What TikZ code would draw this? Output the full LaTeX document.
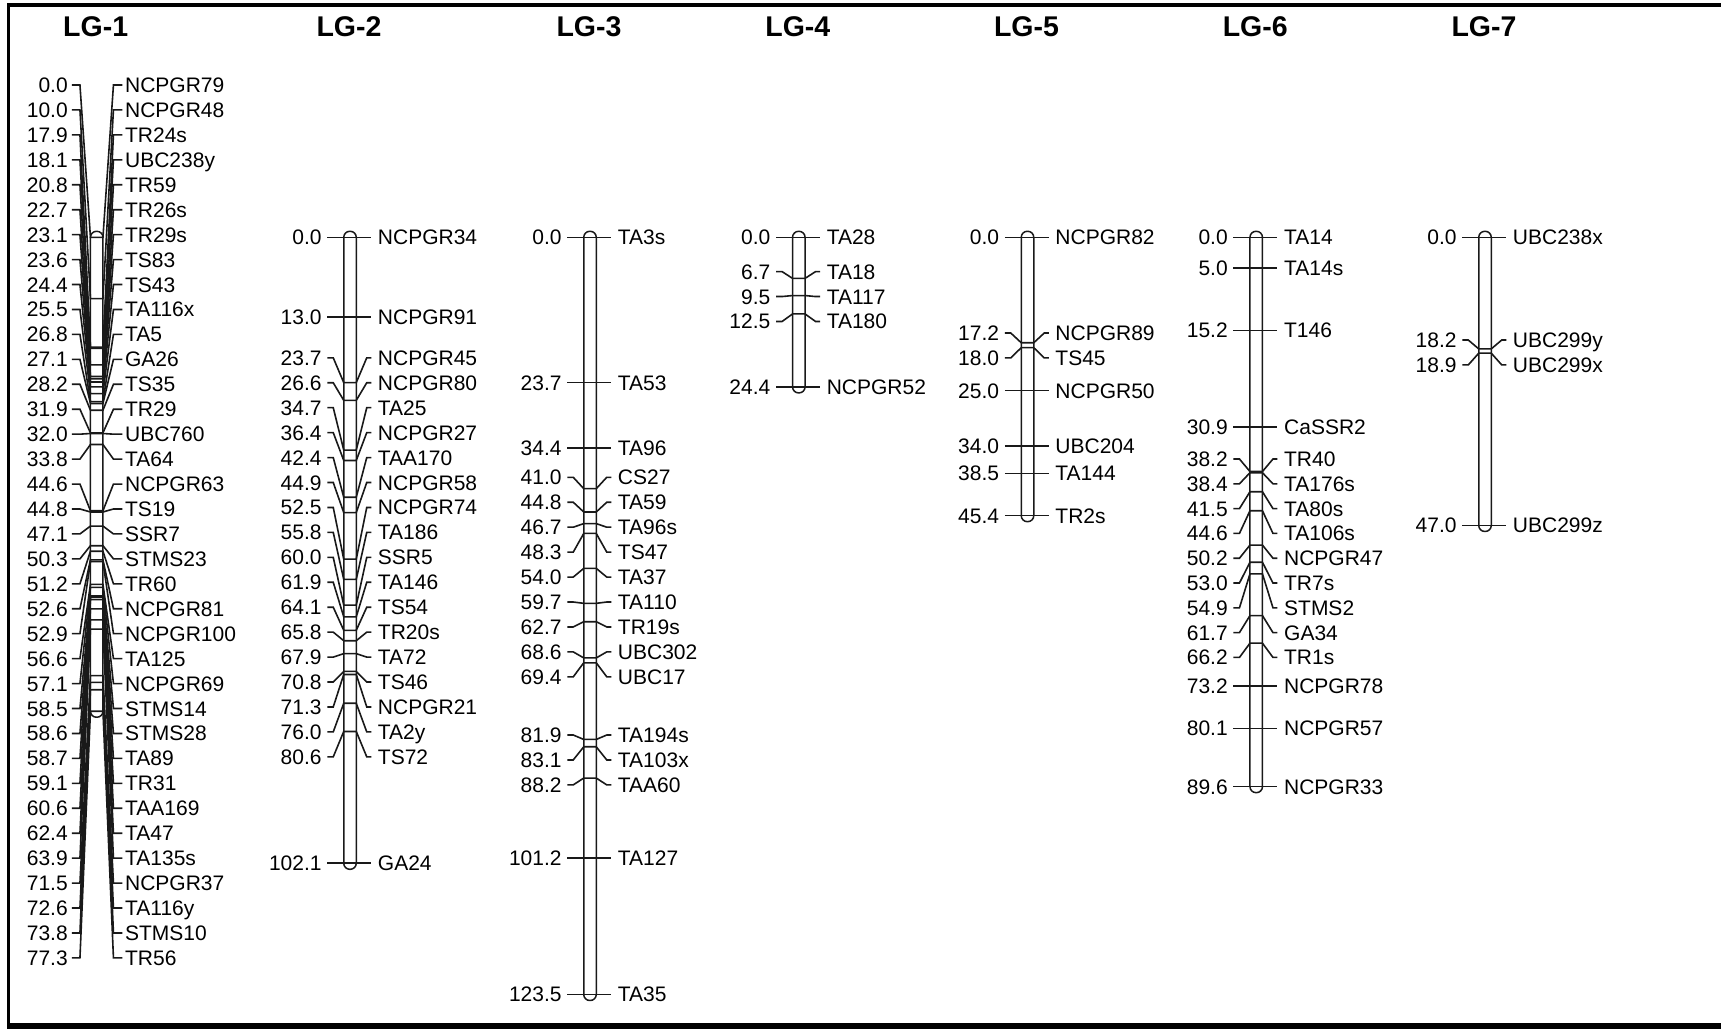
\documentclass[tikz,border=0pt]{standalone}
\usepackage{fontspec}
\setmainfont{Liberation Sans}
\tikzset{
  mline/.style={line width=1.6pt, draw=black!90, line join=miter},
  chrbar/.style={line width=1.5pt, draw=black!90, fill=white, rounded corners=6pt},
  numlab/.style={anchor=base east, inner sep=0pt, font=\fontsize{21}{21}\selectfont},
  mklab/.style={anchor=base west, inner sep=0pt, font=\fontsize{21}{21}\selectfont},
  lgtitle/.style={anchor=center, inner sep=0pt, font=\bfseries\fontsize{28.5}{28.5}\selectfont},
}
% chromosome parameters: centre x, left ext, right ext, number gap, label gap
\newcommand{\setchr}[5]{\def\chrX{#1}\def\chrEL{#2}\def\chrER{#3}\def\chrGN{#4}\def\chrGL{#5}}
% marker: #1 cM, #2 label y, #3 name
\newcommand{\mrk}[3]{%
  \pgfmathsetmacro\yT{237.3+6.131*#1}%
  \pgfmathsetmacro\yL{#2}%
  \pgfmathsetmacro\bL{\chrX-6.25}%
  \pgfmathsetmacro\bR{\chrX+6.25}%
  \coordinate (l-#3) at ({\bL-\chrEL},\yL);
  \coordinate (r-#3) at ({\bR+\chrER},\yL);
  \draw[mline] (l-#3) -- ({\bL-10.5},\yL) -- (\bL,\yT) -- (\bR,\yT) -- ({\bR+10.5},\yL) -- (r-#3);
  \node[numlab] (v-#3) at ({\bL-\chrEL-\chrGN},{\yL+7.5}) {#1};
  \node[mklab] (m-#3) at ({\bR+\chrER+\chrGL},{\yL+7.5}) {#3};
}
\newcommand{\grp}[3]{\foreach \cmv/\nmv [count=\idx from 0] in {#3} {\mrk{\cmv}{#1+#2*\idx}{\nmv}}}
\newcommand{\strt}[1]{\foreach \cmv/\nmv in {#1} {\mrk{\cmv}{237.3+6.131*\cmv}{\nmv}}}
\newcommand{\chrbody}[2]{% #1 length cM, #2 title
  \node[lgtitle] (t-#2) at ({\chrX-1},26.3) {#2};
  \draw[chrbar] ({\chrX-6.25},231.3) rectangle ({\chrX+6.25},{237.3+6.131*#1+6});
}
\begin{document}
\begin{tikzpicture}[x=1pt,y=-1pt]
\useasboundingbox (0,0) rectangle (1721,1029);
\fill[white] (0,0) rectangle (1721,1029);
% frame
\fill[black] (6.5,3.3) rectangle (1721,6.7);
\fill[black] (6.5,3.3) rectangle (10,1029);
\fill[black] (6.5,1023) rectangle (1721,1029);

% LG-1
\setchr{96.7}{18.5}{19.5}{4}{2.5}
\chrbody{77.3}{LG-1}
\grp{85}{24.94}{0.0/NCPGR79, 10.0/NCPGR48, 17.9/TR24s, 18.1/UBC238y, 20.8/TR59, 22.7/TR26s, 23.1/TR29s, 23.6/TS83, 24.4/TS43, 25.5/TA116x, 26.8/TA5, 27.1/GA26, 28.2/TS35, 31.9/TR29, 32.0/UBC760, 33.8/TA64, 44.6/NCPGR63, 44.8/TS19, 47.1/SSR7, 50.3/STMS23, 51.2/TR60, 52.6/NCPGR81, 52.9/NCPGR100, 56.6/TA125, 57.1/NCPGR69, 58.5/STMS14, 58.6/STMS28, 58.7/TA89, 59.1/TR31, 60.6/TAA169, 62.4/TA47, 63.9/TA135s, 71.5/NCPGR37, 72.6/TA116y, 73.8/STMS10, 77.3/TR56}

% LG-2
\setchr{350}{16.5}{15}{5.5}{6.5}
\chrbody{102.1}{LG-2}
\strt{0.0/NCPGR34, 13.0/NCPGR91, 102.1/GA24}
\grp{357.8}{24.94}{23.7/NCPGR45, 26.6/NCPGR80, 34.7/TA25, 36.4/NCPGR27, 42.4/TAA170, 44.9/NCPGR58, 52.5/NCPGR74, 55.8/TA186, 60.0/SSR5, 61.9/TA146, 64.1/TS54, 65.8/TR20s, 67.9/TA72, 70.8/TS46, 71.3/NCPGR21, 76.0/TA2y, 80.6/TS72}

% LG-3
\setchr{590}{16.5}{15}{5.5}{6.5}
\chrbody{123.5}{LG-3}
\strt{0.0/TA3s, 23.7/TA53, 34.4/TA96, 101.2/TA127, 123.5/TA35}
\grp{477.3}{24.94}{41.0/CS27, 44.8/TA59, 46.7/TA96s, 48.3/TS47, 54.0/TA37, 59.7/TA110, 62.7/TR19s, 68.6/UBC302, 69.4/UBC17}
\grp{735}{24.94}{81.9/TA194s, 83.1/TA103x, 88.2/TAA60}

% LG-4
\setchr{798.8}{16.5}{15}{5.5}{6.5}
\chrbody{24.4}{LG-4}
\strt{0.0/TA28, 24.4/NCPGR52}
\grp{271.6}{24.94}{6.7/TA18, 9.5/TA117, 12.5/TA180}

% LG-5
\setchr{1027.5}{16.5}{15}{5.5}{6.5}
\chrbody{45.4}{LG-5}
\strt{0.0/NCPGR82, 25.0/NCPGR50, 34.0/UBC204, 38.5/TA144, 45.4/TR2s}
\grp{333}{24.94}{17.2/NCPGR89, 18.0/TS45}

% LG-6
\setchr{1256.2}{16.5}{15}{5.5}{6.5}
\chrbody{89.6}{LG-6}
\strt{0.0/TA14, 5.0/TA14s, 15.2/T146, 30.9/CaSSR2, 73.2/NCPGR78, 80.1/NCPGR57, 89.6/NCPGR33}
\grp{459}{24.8}{38.2/TR40, 38.4/TA176s, 41.5/TA80s, 44.6/TA106s, 50.2/NCPGR47, 53.0/TR7s, 54.9/STMS2, 61.7/GA34, 66.2/TR1s}

% LG-7
\setchr{1485}{16.5}{15}{5.5}{6.5}
\chrbody{47.0}{LG-7}
\strt{0.0/UBC238x, 47.0/UBC299z}
\grp{340}{24.94}{18.2/UBC299y, 18.9/UBC299x}
\end{tikzpicture}
\end{document}
